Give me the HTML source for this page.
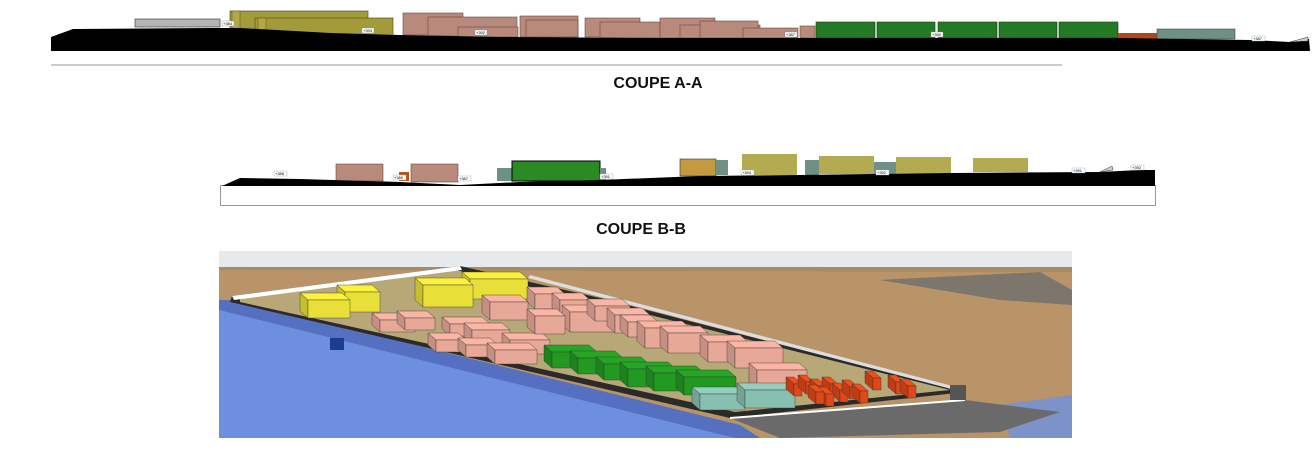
<!DOCTYPE html>
<html><head><meta charset="utf-8"><style>
html,body{margin:0;padding:0;background:#fff;}
body{width:1313px;height:450px;overflow:hidden;position:relative;font-family:"Liberation Sans",sans-serif;}
svg{position:absolute;left:0;top:0;}
.lb{font-size:4px;fill:#000;}
</style></head><body>
<svg width="1313" height="450" viewBox="0 0 1313 450" xmlns="http://www.w3.org/2000/svg">
<!-- COUPE A-A -->
<rect x="135" y="19" width="85" height="8" fill="#b4b4b4" stroke="#444" stroke-width="0.7"/>
<rect x="230" y="11" width="138" height="20" fill="#a39a3a" stroke="#5a5520" stroke-width="0.7"/>
<rect x="232" y="11" width="8" height="20" fill="#b0a848" stroke="#5a5520" stroke-width="0.5"/>
<rect x="255" y="18" width="138" height="21" fill="#a39a3a" stroke="#5a5520" stroke-width="0.7"/>
<rect x="258" y="18" width="8" height="21" fill="#b0a848" stroke="#5a5520" stroke-width="0.5"/>
<g fill="#b88a7c" stroke="#6a4a40" stroke-width="0.6">
<rect x="403" y="13" width="60" height="22"/><rect x="428" y="17" width="89" height="19"/>
<rect x="458" y="27" width="60" height="10"/>
<rect x="520" y="16" width="58" height="21"/><rect x="526" y="20" width="52" height="17"/>
<rect x="585" y="18" width="55" height="19"/><rect x="600" y="22" width="60" height="16"/>
<rect x="660" y="18" width="55" height="20"/><rect x="680" y="25" width="80" height="13"/>
<rect x="700" y="21" width="58" height="17"/><rect x="743" y="28" width="55" height="10"/>
<rect x="800" y="26" width="15" height="12"/>
</g>
<g fill="#247a24" stroke="#0f3f0f" stroke-width="0.6">
<rect x="816" y="22" width="59" height="16"/><rect x="877" y="22" width="58" height="16"/>
<rect x="938" y="22" width="59" height="16"/><rect x="999" y="22" width="58" height="16"/>
<rect x="1059" y="22" width="59" height="16"/>
</g>
<rect x="1118" y="33" width="39" height="6" fill="#b04818"/>
<rect x="1157" y="29" width="78" height="10" fill="#6f9086" stroke="#3a5048" stroke-width="0.6"/>
<polygon points="51,37 73,29 210,28 240,28 330,33 400,35 500,37 660,38 1120,38 1250,40 1290,42 1300,40 1309,39 1310,51 51,51" fill="#000"/>
<polygon points="1290,42 1308,37 1308,41" fill="#ccc" stroke="#333" stroke-width="0.5"/>
<line x1="51" y1="65" x2="1062" y2="65" stroke="#999" stroke-width="1"/>
<g><rect x="222" y="21" width="12" height="5" fill="#fff" stroke="#888" stroke-width="0.4"/><text x="223" y="25" class="lb">+384</text>
<rect x="362" y="28" width="12" height="5" fill="#fff" stroke="#888" stroke-width="0.4"/><text x="363" y="32" class="lb">+393</text>
<rect x="475" y="30" width="12" height="5" fill="#fff" stroke="#888" stroke-width="0.4"/><text x="476" y="34" class="lb">+392</text>
<rect x="785" y="32" width="12" height="5" fill="#fff" stroke="#888" stroke-width="0.4"/><text x="786" y="36" class="lb">+387</text>
<rect x="931" y="32" width="12" height="5" fill="#fff" stroke="#888" stroke-width="0.4"/><text x="932" y="36" class="lb">+390</text>
<rect x="1252" y="36" width="13" height="5" fill="#fff" stroke="#8ab" stroke-width="0.4"/><text x="1253" y="40" class="lb">+387</text></g>
<text x="658" y="88" font-size="16" font-weight="bold" text-anchor="middle" fill="#111">COUPE A-A</text>

<!-- COUPE B-B -->
<rect x="220.5" y="185.5" width="935" height="20" fill="#fff" stroke="#999" stroke-width="1"/>
<rect x="336" y="164" width="47" height="17" fill="#b88a7c" stroke="#6a4a40" stroke-width="0.6"/>
<rect x="399" y="172" width="10" height="9" fill="#c05018"/>
<rect x="411" y="164" width="47" height="18" fill="#b88a7c" stroke="#6a4a40" stroke-width="0.6"/>
<rect x="497" y="168" width="15" height="13" fill="#6f9086"/>
<rect x="512" y="161" width="88" height="20" fill="#2a8a24" stroke="#000" stroke-width="1"/>
<rect x="600" y="168" width="6" height="12" fill="#6f9086"/>
<rect x="680" y="159" width="36" height="17" fill="#c49a40" stroke="#333" stroke-width="0.6"/>
<rect x="716" y="160" width="12" height="15" fill="#6f9086"/>
<rect x="742" y="154" width="55" height="21" fill="#b4aa50"/>
<rect x="805" y="160" width="14" height="15" fill="#6f9086"/>
<rect x="819" y="156" width="55" height="18" fill="#b4aa50"/>
<rect x="874" y="162" width="22" height="12" fill="#6f9086"/>
<rect x="896" y="157" width="55" height="17" fill="#b4aa50"/>
<rect x="973" y="158" width="55" height="14" fill="#b4aa50"/>
<polygon points="222,186 240,178 300,179 400,182 460,185 520,182 600,180 700,176 800,175 950,173 1100,172 1140,170 1155,170 1155,186" fill="#000"/>
<polygon points="1100,172 1112,166 1113,170" fill="#ccc" stroke="#333" stroke-width="0.5"/>
<g>
<rect x="274" y="171" width="13" height="5" fill="#fff" stroke="#8ab" stroke-width="0.4"/><text x="275" y="175" class="lb">+388</text>
<rect x="393" y="175" width="13" height="5" fill="#fff" stroke="#8ab" stroke-width="0.4"/><text x="394" y="179" class="lb">+389</text>
<rect x="458" y="176" width="13" height="5" fill="#fff" stroke="#8ab" stroke-width="0.4"/><text x="459" y="180" class="lb">+387</text>
<rect x="600" y="174" width="13" height="5" fill="#fff" stroke="#8ab" stroke-width="0.4"/><text x="601" y="178" class="lb">+391</text>
<rect x="741" y="170" width="13" height="5" fill="#fff" stroke="#8ab" stroke-width="0.4"/><text x="742" y="174" class="lb">+394</text>
<rect x="876" y="170" width="13" height="5" fill="#fff" stroke="#8ab" stroke-width="0.4"/><text x="877" y="174" class="lb">+392</text>
<rect x="1072" y="168" width="13" height="5" fill="#fff" stroke="#8ab" stroke-width="0.4"/><text x="1073" y="172" class="lb">+391</text>
<rect x="1131" y="165" width="13" height="5" fill="#fff" stroke="#8ab" stroke-width="0.4"/><text x="1132" y="169" class="lb">+392</text></g>
<text x="641" y="234" font-size="16" font-weight="bold" text-anchor="middle" fill="#111">COUPE B-B</text>

<!-- 3D view -->
<defs><clipPath id="c"><rect x="219" y="251" width="853" height="187"/></clipPath></defs>
<g clip-path="url(#c)">
<rect x="219" y="251" width="853" height="187" fill="#b89468"/>
<rect x="219" y="251" width="853" height="16" fill="#e6eaec"/>
<polygon points="219,267 1072,267 1072,272 219,270" fill="#a88a68"/>
<polygon points="880,280 1040,272 1072,290 1072,305 1000,300" fill="#6e6e6e" opacity="0.8"/>
<polygon points="219,305 232,305 735,438 219,438" fill="#6e8fe0"/>
<polygon points="219,300 232,300 740,425 760,438 735,438 219,310" fill="#5570c0"/>
<polygon points="1000,405 1072,395 1072,438 1010,438" fill="#7d92c8"/>
<polygon points="232,296 460,266 600,298 965,392 730,418 230,302" fill="#2a2a2a"/>
<polygon points="240,298 455,270 590,300 950,390 735,412 240,302" fill="#b8a878"/>
<polygon points="232,296 460,266 462,270 234,300" fill="#fff"/>
<polygon points="530,275 960,388 955,390 528,278" fill="#ddd"/>
<polygon points="730,418 965,400 1060,412 1000,432 780,438" fill="#6a6a6a"/>
<line x1="730" y1="418" x2="965" y2="400" stroke="#fff" stroke-width="2"/>
<rect x="330" y="338" width="14" height="12" fill="#1c3c90"/>
<rect x="950" y="385" width="16" height="15" fill="#555"/>
</g>
<g id="bx" stroke="#333" stroke-width="0.4"></g>
</svg>
<script>
var g=document.getElementById('bx');
function sh(c,f){var r=parseInt(c.slice(1,3),16),gg=parseInt(c.slice(3,5),16),b=parseInt(c.slice(5,7),16);
function t(v){v=Math.round(v*f);return Math.max(0,Math.min(255,v));}return 'rgb('+t(r)+','+t(gg)+','+t(b)+')';}
function box(x,y,w,h,c){var dx=-8,dy=-7;
var s='<polygon points="'+x+','+y+' '+(x+w)+','+y+' '+(x+w+dx)+','+(y+dy)+' '+(x+dx)+','+(y+dy)+'" fill="'+sh(c,1.08)+'"/>';
s+='<polygon points="'+x+','+y+' '+(x+dx)+','+(y+dy)+' '+(x+dx)+','+(y+dy+h)+' '+x+','+(y+h)+'" fill="'+sh(c,0.85)+'"/>';
s+='<rect x="'+x+'" y="'+y+'" width="'+w+'" height="'+h+'" fill="'+c+'"/>';g.innerHTML+=s;}
var Y='#e8e038',P='#e8a898',G='#229a22',T='#88c0b0',O='#e04818';
[[345,292,35,20],[308,300,42,18],[470,279,58,20],[423,285,50,22]].forEach(function(a){box(a[0],a[1],a[2],a[3],Y);});
[[380,320,35,12],[405,318,30,12],[450,324,40,12],[472,330,38,14],[436,340,30,12],[466,345,32,12],[510,340,40,14],[495,350,42,14],
[535,294,30,15],[490,302,38,18],[560,300,30,15],[570,312,45,20],[535,316,30,18],[595,306,35,15],[615,315,35,18],[628,322,30,15],
[645,328,45,20],[668,333,40,20],[708,342,40,20],[735,348,48,20],[757,370,50,20]].forEach(function(a){box(a[0],a[1],a[2],a[3],P);});
[[552,352,45,16],[578,358,45,16],[604,364,45,16],[628,369,48,18],[654,373,50,18],[684,377,52,18]].forEach(function(a){box(a[0],a[1],a[2],a[3],G);});
[[700,394,45,16],[745,390,50,18]].forEach(function(a){box(a[0],a[1],a[2],a[3],T);});
[[794,384],[806,382],[818,386],[830,384],[840,390],[850,387],[860,391],[873,378],[896,382],[908,386],[826,394],[816,392]].forEach(function(a){box(a[0],a[1],8,12,O);});
</script>
</body></html>
